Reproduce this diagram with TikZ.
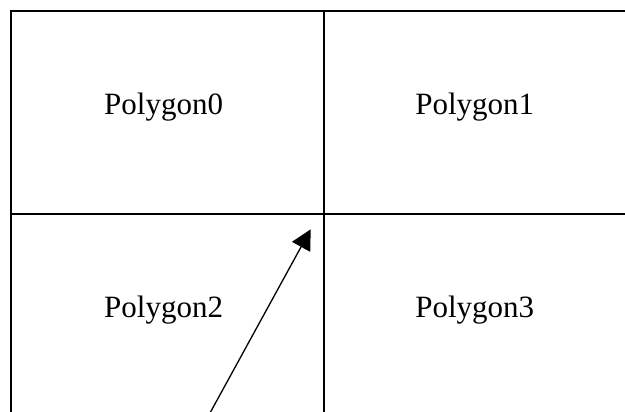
\documentclass[tikz,border=0pt]{standalone}
\usepackage{fontspec}
\setmainfont{Liberation Serif}
\usetikzlibrary{arrows.meta}
\begin{document}
\begin{tikzpicture}[x=1pt,y=-1pt,
  gridline/.style={line width=2pt, line join=miter, line cap=rect},
  label/.style={anchor=base, inner sep=0pt, font=\fontsize{31}{36}\selectfont},
  pointer/.style={line width=1.3pt, -{Triangle[length=20pt,width=20.5pt]}}]
\useasboundingbox (0,0) rectangle (625,412);
\fill[white] (0,0) rectangle (625,412);
% grid (open at right and bottom)
\draw[gridline] (11,412) -- (11,11) -- (625,11);
\draw[gridline] (324,11) -- (324,412);
\draw[gridline] (11,214.3) -- (625,214.3);
% labels
\node[label] (p0) at (163.6,114.3) {Polygon0};
\node[label] (p1) at (474.7,114.3) {Polygon1};
\node[label] (p2) at (163.6,317) {Polygon2};
\node[label] (p3) at (474.7,317) {Polygon3};
% arrow
\coordinate (arrowstart) at (210,413);
\coordinate (arrowend) at (310.7,229.3);
\draw[pointer] (arrowstart) -- (arrowend);
\end{tikzpicture}
\end{document}
